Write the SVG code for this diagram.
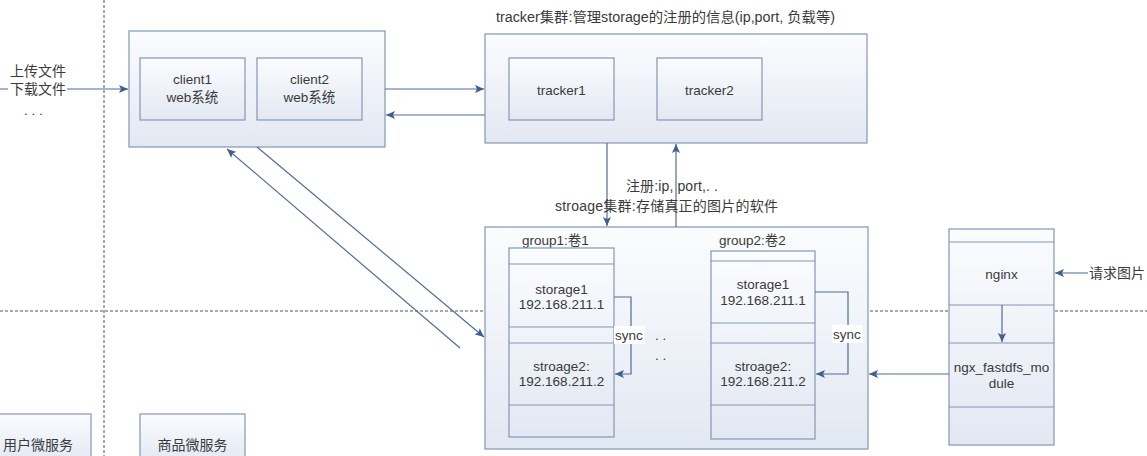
<svg xmlns="http://www.w3.org/2000/svg" width="1147" height="456" viewBox="0 0 1147 456">
<style>
text{font-family:"Liberation Sans","Noto Sans CJK SC",sans-serif;font-size:13.5px;fill:#3a3a3a;}
.c{text-anchor:middle;}
.big{font-size:14px;}
.box{fill:url(#g);stroke:#8496b6;stroke-width:1.2;}
.band{fill:none;stroke:#8496b6;stroke-width:1.2;}
.dash{stroke:#555;stroke-width:1;stroke-dasharray:3,2;fill:none;}
.ln{stroke:#4f6d9a;stroke-width:1.2;fill:none;}
.arr{marker-end:url(#ah);}
.lbl{fill:#fff;}
</style>
<defs>
<linearGradient id="g" x1="0" y1="0" x2="0" y2="1">
<stop offset="0" stop-color="#fbfcfe"/>
<stop offset="1" stop-color="#e2e8f2"/>
</linearGradient>
<marker id="ah" markerWidth="10" markerHeight="8" refX="9" refY="4" orient="auto" markerUnits="userSpaceOnUse">
<path d="M0,0 L9,4 L0,8 L2,4 Z" fill="#3f5f8f"/>
</marker>
</defs>
<g id="guides">
<line class="dash" x1="104" y1="0" x2="104" y2="456"/>
<line class="dash" x1="0" y1="311" x2="1147" y2="311"/>
</g>
<g id="client-cluster">
<rect class="box" x="129" y="31" width="256" height="116"/>
<g id="client1"><rect class="box" x="140" y="58" width="105" height="62"/>
<text class="c" x="192.5" y="84">client1</text><text class="c" x="192.5" y="102">web系统</text></g>
<g id="client2"><rect class="box" x="257" y="58" width="105" height="62"/>
<text class="c" x="309.5" y="84">client2</text><text class="c" x="309.5" y="102">web系统</text></g>
</g>
<g id="tracker-cluster">
<text class="big" x="496" y="22" textLength="339" lengthAdjust="spacingAndGlyphs">tracker集群:管理storage的注册的信息(ip,port, 负载等)</text>
<rect class="box" x="485" y="34" width="382" height="109"/>
<g id="tracker1"><rect class="box" x="509" y="58" width="105" height="62"/>
<text class="c" x="561.5" y="95">tracker1</text></g>
<g id="tracker2"><rect class="box" x="657" y="58" width="105" height="62"/>
<text class="c" x="709.5" y="95">tracker2</text></g>
</g>
<g id="storage-cluster">
<rect class="box" x="485" y="227" width="383" height="222"/>
<g id="group1">
<text x="522" y="245">group1:卷1</text>
<rect class="box" x="509" y="248" width="105" height="189"/>
<line class="band" x1="509" y1="264" x2="614" y2="264"/>
<line class="band" x1="509" y1="327" x2="614" y2="327"/>
<line class="band" x1="509" y1="343" x2="614" y2="343"/>
<line class="band" x1="509" y1="405" x2="614" y2="405"/>
<text class="c" x="561.5" y="294">storage1</text><text class="c" x="561.5" y="309">192.168.211.1</text>
<text class="c" x="561.5" y="371">stroage2:</text><text class="c" x="561.5" y="386">192.168.211.2</text>
</g>
<g id="group2">
<text x="719" y="245">group2:卷2</text>
<rect class="box" x="711" y="251" width="104" height="188"/>
<line class="band" x1="711" y1="261" x2="815" y2="261"/>
<line class="band" x1="711" y1="323" x2="815" y2="323"/>
<line class="band" x1="711" y1="343" x2="815" y2="343"/>
<line class="band" x1="711" y1="405" x2="815" y2="405"/>
<text class="c" x="763" y="289">storage1</text><text class="c" x="763" y="305">192.168.211.1</text>
<text class="c" x="763" y="371">stroage2:</text><text class="c" x="763" y="386">192.168.211.2</text>
</g>
<text x="655" y="340">. .</text>
<text x="655" y="360">. .</text>
</g>
<g id="nginx-node">
<rect class="box" x="949" y="229" width="105" height="216"/>
<line class="band" x1="949" y1="242" x2="1054" y2="242"/>
<line class="band" x1="949" y1="305" x2="1054" y2="305"/>
<line class="band" x1="949" y1="343" x2="1054" y2="343"/>
<line class="band" x1="949" y1="407" x2="1054" y2="407"/>
<text class="c" x="1001.5" y="279">nginx</text>
<text class="c" x="1001.5" y="372">ngx_fastdfs_mo</text>
<text class="c" x="1001.5" y="388">dule</text>
</g>
<g id="user-service"><rect class="box" x="-2" y="414" width="93" height="50"/>
<text class="c big" x="38" y="450">用户微服务</text></g>
<g id="goods-service"><rect class="box" x="140" y="414" width="105" height="50"/>
<text class="c big" x="192.5" y="450">商品微服务</text></g>
<g id="connectors">
<line class="ln arr" x1="0" y1="89" x2="128" y2="89"/>
<line class="ln arr" x1="385" y1="89" x2="484" y2="89"/>
<line class="ln arr" x1="485" y1="115" x2="386" y2="115"/>
<line class="ln arr" x1="607" y1="143" x2="607" y2="226"/>
<line class="ln arr" x1="676" y1="227" x2="676" y2="144"/>
<line class="ln arr" x1="460" y1="348" x2="227" y2="149"/>
<line class="ln arr" x1="257" y1="147" x2="484" y2="337"/>
<polyline class="ln arr" points="614,297 631,297 631,374 615,374"/>
<polyline class="ln arr" points="815,292 848,292 848,374 816,374"/>
<line class="ln arr" x1="1002" y1="305" x2="1002" y2="342"/>
<line class="ln arr" x1="949" y1="374" x2="869" y2="374"/>
<line class="ln arr" x1="1088" y1="273" x2="1055" y2="273"/>
</g>
<g id="labels">
<rect class="lbl" x="8" y="59" width="59" height="60"/>
<text class="big" x="10" y="76">上传文件</text>
<text class="big" x="10" y="94">下载文件</text>
<text x="24" y="115">. . .</text>
<text class="big" x="626" y="191" textLength="92" lengthAdjust="spacing">注册:ip, port,. .</text>
<text class="big" x="555" y="211" textLength="223" lengthAdjust="spacing">stroage集群:存储真正的图片的软件</text>
<rect class="lbl" x="614" y="326" width="31" height="18"/>
<text x="615" y="340">sync</text>
<rect class="lbl" x="832" y="325" width="31" height="18"/>
<text x="833" y="339">sync</text>
<text class="big" x="1089" y="278">请求图片</text>
</g>
</svg>
